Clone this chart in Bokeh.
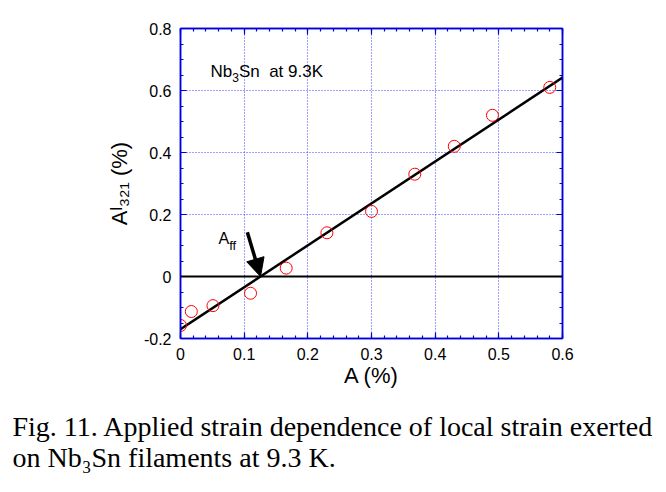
import math
import numpy as np
from bokeh.plotting import figure
from bokeh.models import (Range1d, LinearAxis, FixedTicker, CustomJSTickFormatter,
                          Label, Span, Arrow, NormalHead, Title)
from bokeh.embed import file_html
from bokeh.resources import INLINE

# ---------------- data ----------------
applied_strain = [0.0, 0.017, 0.051, 0.110, 0.166, 0.230, 0.300, 0.368, 0.430, 0.490, 0.580]
local_strain = [-0.158, -0.113, -0.094, -0.054, 0.027, 0.141, 0.210, 0.330, 0.420, 0.520, 0.610]

x_ticks = [0, 0.1, 0.2, 0.3, 0.4, 0.5, 0.6]
x_tick_labels = ["0", "0.1", "0.2", "0.3", "0.4", "0.5", "0.6"]
y_ticks = [-0.2, 0, 0.2, 0.4, 0.6, 0.8]
y_tick_labels = ["-0.2", "0", "0.2", "0.4", "0.6", "0.8"]

x_label = "A (%)"
y_label = "A\u02e1\u2083\u2082\u2081 (%)"
title_main = "Nb"
title_sub = "3"
title_rest = "Sn\u00a0\u00a0at 9.3K"
caption_line1 = "Fig. 11. Applied strain dependence of local strain exerted"
caption_line2 = "on Nb\u2083Sn filaments at 9.3 K."

# arrow tail (data units)
arrow_tail = (0.105, 0.143)

# ---------------- layout ----------------
W, H = 664, 492
FL, FR, FT, FB = 180, 562, 28, 338
BLUE = "#0000dd"
SANS = "Liberation Sans"
SERIF = "Liberation Serif"

p = figure(width=W, height=H, output_backend="svg", toolbar_location=None,
           x_range=Range1d(0, 0.6), y_range=Range1d(-0.2, 0.8),
           min_border_left=FL, min_border_right=W - FR,
           min_border_top=FT, min_border_bottom=H - FB,
           background_fill_color="white", border_fill_color="white")
p.outline_line_color = BLUE
p.outline_line_width = 1.5

x_minor = [round(v, 3) for v in np.arange(0, 0.6001, 0.02)]
y_minor = [round(v, 3) for v in np.arange(-0.2, 0.8001, 0.05)]
xticker = FixedTicker(ticks=x_ticks, minor_ticks=x_minor)
yticker = FixedTicker(ticks=y_ticks, minor_ticks=y_minor)

def fmt(tvals, tlabels):
    return CustomJSTickFormatter(args=dict(tvals=tvals, tlabels=tlabels), code="""
        for (let i = 0; i < tvals.length; i++) {
            if (Math.abs(tvals[i] - tick) < 1e-9) return tlabels[i];
        }
        return '';
    """)

def style_axis(ax, ticker, show_labels):
    ax.ticker = ticker
    ax.axis_line_color = BLUE
    ax.axis_line_width = 1.5
    ax.major_tick_line_color = BLUE
    ax.minor_tick_line_color = BLUE
    ax.major_tick_line_width = 1.2
    ax.minor_tick_line_width = 1.2
    ax.major_tick_in = 6
    ax.major_tick_out = 0
    ax.minor_tick_in = 3
    ax.minor_tick_out = 0
    ax.major_label_text_font = SANS
    ax.major_label_text_font_size = "16px"
    ax.major_label_text_color = "black"
    ax.major_label_standoff = 9
    if not show_labels:
        ax.formatter = CustomJSTickFormatter(code="return '';")
        ax.major_label_text_font_size = "0px"
        ax.major_label_standoff = 0

for ax, lab in ((p.xaxis[0], x_label), (p.yaxis[0], y_label)):
    ax.axis_label = lab
    ax.axis_label_text_font = SANS
    ax.axis_label_text_font_size = "22px"
    ax.axis_label_text_font_style = "normal"
    ax.axis_label_text_color = "black"

style_axis(p.xaxis[0], xticker, True)
p.xaxis[0].formatter = fmt(x_ticks, x_tick_labels)
p.xaxis[0].axis_label_standoff = 0

style_axis(p.yaxis[0], yticker, True)
p.yaxis[0].formatter = fmt(y_ticks, y_tick_labels)
p.yaxis[0].axis_label_standoff = 9

top_ax = LinearAxis()
style_axis(top_ax, xticker, False)
p.add_layout(top_ax, "above")
right_ax = LinearAxis()
style_axis(right_ax, yticker, False)
p.add_layout(right_ax, "right")

for g, t in ((p.xgrid[0], xticker), (p.ygrid[0], yticker)):
    g.ticker = t
    g.grid_line_color = "#0000ff"
    g.grid_line_alpha = 0.75
    g.grid_line_dash = "1 2"
    g.grid_line_width = 1

# zero line
p.add_layout(Span(location=0, dimension="width", line_color="black", line_width=2))

# linear fit
slope, intercept = np.polyfit(applied_strain, local_strain, 1)
fit_x = [p.x_range.start, p.x_range.end]
fit_y = [float(slope * v + intercept) for v in fit_x]
p.line(fit_x, fit_y, line_color="black", line_width=2.5)

p.scatter(applied_strain, local_strain, marker="circle", size=12,
          fill_color=None, line_color="#ff0000", line_width=1)

x_cross = float(-intercept / slope)
p.add_layout(Arrow(end=NormalHead(size=18, fill_color="black", line_color="black", line_width=1),
                   x_start=arrow_tail[0], y_start=arrow_tail[1], x_end=x_cross, y_end=0,
                   line_color="black", line_width=3.5))

def add_text(text, xf, yf, size, font=SANS, angle=0.0):
    p.add_layout(Label(x=xf - FL, y=FB - yf, x_units="screen", y_units="screen",
                       text=text, text_font=font, text_font_size=f"{size}px",
                       text_color="black", text_align="left",
                       text_baseline="alphabetic", angle=angle))

# title inside plot
add_text(title_main, 210, 70.7, 17)
add_text(title_sub, 231.7, 76.5, 12)
add_text(title_rest, 238.4, 70.7, 17)

# A_ff label
add_text("A", 218, 237.7, 16)
add_text("ff", 228.7, 245, 13)

# caption (as a two-line title below the axis)
p.add_layout(Title(text=caption_line1 + "\n" + caption_line2, align="left", offset=12 - FL,
                   text_font=SERIF, text_font_size="28px", text_line_height=1.0,
                   text_font_style="normal", text_color="black",
                   standoff=36), "below")

open("out.html", "w").write(file_html(p, INLINE))
